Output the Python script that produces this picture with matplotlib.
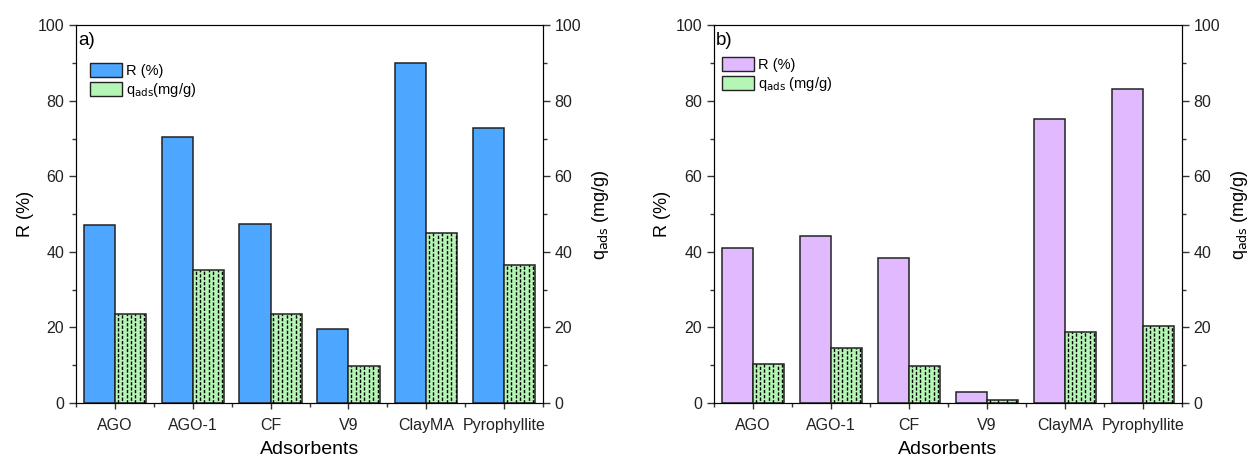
import numpy as np
import matplotlib
matplotlib.use("Agg")
import matplotlib.pyplot as plt
from matplotlib.ticker import MultipleLocator, FixedLocator
from matplotlib.patches import Patch

plt.rcParams['font.family'] = ['Liberation Sans', 'DejaVu Sans']

# Data
adsorbents = ['AGO', 'AGO-1', 'CF', 'V9', 'ClayMA', 'Pyrophyllite']
R_a = [47.0, 70.3, 47.5, 19.7, 90.0, 72.7]
q_a = [23.6, 35.1, 23.6, 9.8, 45.0, 36.5]
R_b = [41.0, 44.2, 38.5, 2.8, 75.2, 83.2]
q_b = [10.3, 14.5, 9.7, 0.9, 18.8, 20.3]

green = '#b5f5b5'
edge = '#222222'


def dashed_hatch(ax, bars):
    # vertical dashed lines inside each green bar
    for b in bars:
        x0, w, h = b.get_x(), b.get_width(), b.get_height()
        xs = x0 + np.arange(0.035, w, 0.057)
        for k, xx in enumerate(xs):
            ln = ax.vlines(xx, 0, h, colors='black', linestyles=(k % 2 * 1.8, (2.4, 1.3)),
                           linewidth=1.0, zorder=3)
            ln.set_clip_path(b)


def panel(ax, R, q, color, label, qlabel, leg_xy):
    x = np.arange(1, len(adsorbents) + 1)
    ax.bar(x - 0.2, R, width=0.4, color=color, edgecolor=edge, linewidth=1.1, zorder=2)
    ax2 = ax.twinx()
    bars = ax2.bar(x + 0.2, q, width=0.4, color=green, edgecolor=edge, linewidth=1.1, zorder=2)
    dashed_hatch(ax2, bars)
    for a in (ax, ax2):
        a.set_ylim(0, 100)
        a.yaxis.set_major_locator(MultipleLocator(20))
        a.yaxis.set_minor_locator(MultipleLocator(10))
        a.tick_params(axis='y', which='major', length=5, width=1, labelsize=11.5,
                      color='#333333', pad=3.5, labelcolor='#222222')
        a.tick_params(axis='y', which='minor', length=3, width=1, color='#333333')
    ax.tick_params(axis='x', which='major', length=4.5, width=1, labelsize=11.5,
                   color='#333333', pad=6, labelcolor='#222222')
    ax.tick_params(axis='x', which='minor', length=3, width=1, color='#333333')
    ax.set_xlim(0.5, 6.5)
    ax.xaxis.set_major_locator(FixedLocator(x))
    ax.xaxis.set_minor_locator(FixedLocator(np.arange(0.5, 7, 1)))
    ax.set_xticklabels(adsorbents)
    ax.set_xlabel('Adsorbents', fontsize=14, labelpad=6)
    ax.set_ylabel('R (%)', fontsize=13, labelpad=3)
    ax2.set_ylabel(r'q$_{\mathrm{ads}}$ (mg/g)', fontsize=13, labelpad=6)
    ax.text(0.005, 0.96, label, transform=ax.transAxes, fontsize=13.5, va='center')
    handles = [Patch(facecolor=color, edgecolor=edge),
               Patch(facecolor=green, edgecolor=edge, hatch='::')]
    ax.legend(handles, ['R (%)', qlabel], loc='upper left', bbox_to_anchor=leg_xy,
              frameon=False, fontsize=10.5, handlelength=2.2, handleheight=1.1,
              handletextpad=0.25, labelspacing=0.2, borderaxespad=0, borderpad=0)
    for s in ax.spines.values():
        s.set_color('#333333')


fig = plt.figure(figsize=(12.48, 4.59), dpi=100)
ax1 = fig.add_axes([0.061, 0.122, 0.374, 0.823])
ax2 = fig.add_axes([0.572, 0.122, 0.375, 0.823])
panel(ax1, R_a, q_a, '#4da6ff', 'a)', r'q$_{\mathrm{ads}}$(mg/g)', (0.03, 0.9))
panel(ax2, R_b, q_b, '#e1b9ff', 'b)', r'q$_{\mathrm{ads}}$ (mg/g)', (0.018, 0.915))

fig.savefig('out.png', dpi=100)
